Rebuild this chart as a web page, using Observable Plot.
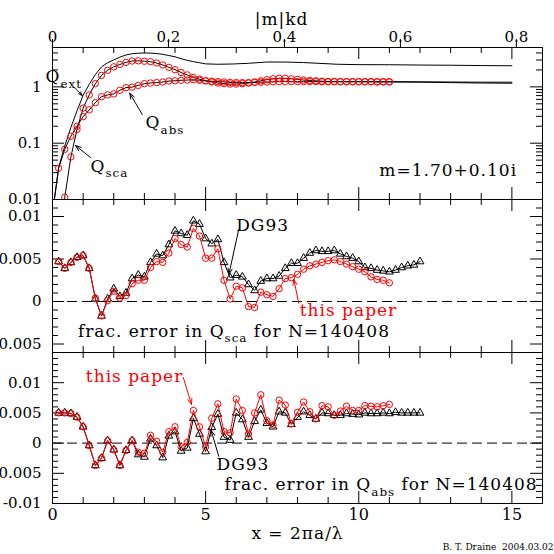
<!DOCTYPE html>
<html><head><meta charset="utf-8">
<script src="https://cdn.jsdelivr.net/npm/d3@7"></script>
<script src="https://cdn.jsdelivr.net/npm/@observablehq/plot@0.6"></script>
<style>
body{margin:0;background:#fff;}
#wrap{position:relative;width:554px;height:554px;background:#fff;overflow:hidden;}
#wrap svg{position:absolute;left:0;top:0;}
</style></head><body><div id="wrap"></div>
<script>
// ---------- data ----------
const xGrid = [0.2,0.4,0.6,0.8,1,1.2,1.4,1.6,1.8,2,2.2,2.4,2.6,2.8,3,3.2,3.4,3.6,3.8,4,4.2,4.4,4.6,4.8,5,5.2,5.4,5.6,5.8,6,6.2,6.4,6.6,6.8,7,7.2,7.4,7.6,7.8,8,8.2,8.4,8.6,8.8,9,9.2,9.4,9.6,9.8,10,10.2,10.4,10.6,10.8,11,11.2,11.4,11.6,11.8,12];

// top panel: Q values (red circles, x = 0.2 ... 11)
const qscaVals = [0.0008,0.011,0.057,0.175,0.42,0.72,1.14,1.6,1.97,2.27,2.5,2.72,2.88,2.9,2.85,2.8,2.65,2.45,2.22,2.02,1.8,1.63,1.47,1.37,1.28,1.22,1.17,1.14,1.12,1.12,1.14,1.17,1.22,1.28,1.34,1.39,1.42,1.42,1.39,1.36,1.32,1.3,1.28,1.26,1.25,1.25,1.24,1.24,1.24,1.24,1.24,1.24,1.24,1.24,1.24];
const qabsVals = [0.036,0.078,0.133,0.2,0.295,0.39,0.525,0.67,0.72,0.75,0.87,0.97,0.99,1.06,1.14,1.17,1.19,1.22,1.27,1.28,1.31,1.32,1.34,1.31,1.28,1.26,1.24,1.22,1.2,1.19,1.19,1.19,1.2,1.21,1.22,1.23,1.24,1.24,1.24,1.24,1.24,1.24,1.24,1.23,1.23,1.23,1.23,1.23,1.23,1.23,1.23,1.23,1.22,1.22,1.22];
// continuation of the exact curves beyond the last circle
const tailX = [12,13,14,15];
const qscaTail = [1.23,1.22,1.21,1.21];
const qabsTail = [1.21,1.19,1.17,1.16];
const qabsHeadX = [0.05], qabsHead = [0.009];
const qextX = [0.05,0.2,0.4,0.6,0.8,1,1.2,1.4,1.6,1.8,2,2.2,2.4,2.6,2.8,3,3.2,3.4,3.6,3.8,4,4.2,4.4,4.6,4.8,5,5.4,5.9,6.4,7,7.6,8.2,8.8,9.3,10,11,12,13,14,15];
const qextVals = [0.009,0.037,0.089,0.19,0.375,0.71,1.11,1.66,2.26,2.68,3.01,3.37,3.69,3.87,3.96,3.99,3.97,3.9,3.78,3.6,3.42,3.17,2.95,2.81,2.68,2.56,2.52,2.55,2.62,2.76,2.76,2.7,2.6,2.52,2.48,2.47,2.44,2.42,2.39,2.37];

// middle panel: frac. error in Qsca
const scaDG93 = [0.0047,0.0039,0.0046,0.0052,0.0054,0.0039,0.0003,-0.0017,0.0003,0.0015,0.0006,0.0010,0.0027,0.0031,0.0029,0.0046,0.0056,0.0054,0.0067,0.0083,0.0080,0.0078,0.0095,0.0091,0.0074,0.0068,0.0073,0.0046,0.0028,0.0031,0.0029,0.0020,0.0013,0.0024,0.0027,0.0027,0.0030,0.0039,0.0045,0.0045,0.0051,0.0057,0.0060,0.0059,0.0059,0.0060,0.0056,0.0053,0.0051,0.0047,0.0040,0.0039,0.0037,0.0036,0.0035,0.0037,0.0040,0.0042,0.0043,0.0047];
const scaPaper = [0.0047,0.0039,0.0046,0.0052,0.0054,0.0039,0.0004,-0.0017,0.0001,0.0012,0.0004,0.0007,0.0021,0.0025,0.0025,0.0040,0.0047,0.0046,0.0057,0.0074,0.0067,0.0064,0.0086,0.0077,0.0051,0.0051,0.0062,0.0025,0.0003,0.0018,0.0016,-0.0006,-0.0007,0.0011,0.0008,0.0006,0.0015,0.0027,0.0028,0.0032,0.0038,0.0042,0.0044,0.0046,0.0048,0.0049,0.0047,0.0044,0.0041,0.0038,0.0035,0.0029,0.0026,0.0025,0.0022];

// bottom panel: frac. error in Qabs
const absDG93 = [0.0050,0.0050,0.0049,0.0043,0.0027,-0.0004,-0.0037,-0.0025,0.0004,-0.0011,-0.0037,-0.0012,0.0004,-0.0019,-0.0023,0.0007,-0.0004,-0.0024,0.0012,0.0019,-0.0013,-0.0008,0.0041,0.0015,-0.0014,0.0026,0.0048,0.0010,0.0005,0.0050,0.0039,0.0010,0.0036,0.0055,0.0033,0.0027,0.0052,0.0050,0.0031,0.0043,0.0052,0.0046,0.0040,0.0050,0.0049,0.0046,0.0046,0.0049,0.0048,0.0047,0.0050,0.0049,0.0049,0.0050,0.0049,0.0051,0.0050,0.0050,0.0050,0.0050];
const absPaper = [0.0050,0.0050,0.0049,0.0043,0.0027,-0.0004,-0.0037,-0.0025,0.0004,-0.0011,-0.0037,-0.0012,0.0004,-0.0015,-0.0017,0.0013,0.0003,-0.0015,0.0019,0.0027,-0.0006,0.0001,0.0054,0.0027,-0.0006,0.0041,0.0065,0.0019,0.0017,0.0073,0.0054,0.0015,0.0050,0.0080,0.0037,0.0030,0.0071,0.0063,0.0032,0.0051,0.0068,0.0052,0.0040,0.0062,0.0060,0.0046,0.0053,0.0061,0.0054,0.0054,0.0062,0.0061,0.0060,0.0062,0.0064];

// ticks / labels
const xMajor = [0,5,10,15];
const xMinorTicks = [1,2,3,4,6,7,8,9,11,12,13,14];
const xMajorTicks = [5,10,15];
const mkdTicks = [0,0.2,0.4,0.6,0.8];
const mkdLabels = ["0","0.2","0.4","0.6","0.8"];
const logMajor = [0.01,0.1,1];
const logLabels = ["0.01","0.1","1"];
const logMinor = [0.02,0.03,0.04,0.05,0.06,0.07,0.08,0.09,0.2,0.3,0.4,0.5,0.6,0.7,0.8,0.9,2,3,4];
const midMajor = [-0.005,0,0.005,0.01];
const midLabels = ["-0.005","0","0.005","0.01"];
const botMajor = [-0.01,-0.005,0,0.005,0.01];
const botLabels = ["-0.01","-0.005","0","0.005","0.01"];

// annotations (data coordinates)
const topLabels = [
  {x:-0.23, y:1.50, t:"Q_{ext}"},
  {x:1.24, y:0.0389, t:"Q_{sca}"},
  {x:3.04, y:0.228, t:"Q_{abs}"}
];
const topArrows = [
  {x1:0.70, y1:0.986, x2:0.97, y2:0.703},
  {x1:1.24, y1:0.0557, x2:0.75, y2:0.091},
  {x1:2.93, y1:0.323, x2:2.52, y2:0.773}
];

// |m| k d per unit x :  |1.70+0.10i| * (4pi/3N)^(1/3), N=140408
const mkdPerX = Math.hypot(1.70,0.10) * Math.cbrt(4*Math.PI/(3*140408));

// ---------- layout ----------
const W = 554, H = 554, ML = 52, MR = 12, PW = W - ML - MR;
const wrap = document.getElementById("wrap");
const FONT = "'DejaVu Serif', serif";

function subscripts(svg) {
  svg.querySelectorAll("text").forEach(el => {
    const base = parseFloat(getComputedStyle(el).fontSize) || 16;
    if (base >= 16.5) el.style.letterSpacing = "1px";
    const s = el.textContent;
    if (!s.includes("_{")) return;
    const shift = base * 0.32;
    const parts = s.split(/(_\{[^}]*\})/);
    el.textContent = "";
    let shifted = false;
    for (const p of parts) {
      if (!p) continue;
      const ts = document.createElementNS("http://www.w3.org/2000/svg", "tspan");
      if (p.startsWith("_{")) {
        ts.textContent = p.slice(2, -1);
        ts.setAttribute("font-size", (base * 0.7) + "px");
        ts.setAttribute("dy", shift + "px");
        shifted = true;
      } else {
        ts.textContent = p;
        if (shifted) { ts.setAttribute("dy", (-shift) + "px"); shifted = false; }
      }
      el.appendChild(ts);
    }
  });
}

function xTicks(ph) {
  return [
    Plot.ruleX(xMinorTicks, {x: d => d, insetTop: ph - 6}),
    Plot.ruleX(xMajorTicks, {x: d => d, insetTop: ph - 12}),
    Plot.ruleX(xMinorTicks, {x: d => d, insetBottom: ph - 6}),
    Plot.ruleX(xMajorTicks, {x: d => d, insetBottom: ph - 12})
  ];
}
function yTicks(minor, major) {
  return [
    Plot.ruleY(minor, {y: d => d, insetRight: PW - 6}),
    Plot.ruleY(major, {y: d => d, insetRight: PW - 12}),
    Plot.ruleY(minor, {y: d => d, insetLeft: PW - 6}),
    Plot.ruleY(major, {y: d => d, insetLeft: PW - 12})
  ];
}
function yLabels(vals, labels) {
  return Plot.text(vals, {y: d => d, text: (d, i) => labels[i], frameAnchor: "left", textAnchor: "end", dx: -11, fontSize: 15});
}

function panel(top, bottom, y, marks) {
  const svg = Plot.plot({
    width: W, height: H,
    marginLeft: ML, marginRight: MR, marginTop: top, marginBottom: H - bottom,
    x: {domain: [0, 16], axis: null},
    y: {...y, axis: null},
    style: {background: "transparent", fontFamily: FONT, fontSize: "15px", color: "black"},
    marks
  });
  wrap.appendChild(svg);
  subscripts(svg);
}

const idx55 = xGrid.slice(0, 55);
const scaCircles = idx55.map((x, i) => ({x, v: qscaVals[i]}));
const absCircles = idx55.map((x, i) => ({x, v: qabsVals[i]}));
const scaLine = scaCircles.concat(tailX.map((x, i) => ({x, v: qscaTail[i]})));
const absLine = qabsHeadX.map((x, i) => ({x, v: qabsHead[i]})).concat(absCircles, tailX.map((x, i) => ({x, v: qabsTail[i]})));
const extLine = qextX.map((x, i) => ({x, v: qextVals[i]}));

// ---------- top panel ----------
const P1 = 152;
panel(47, 199, {type: "log", domain: [0.01, 5]}, [
  Plot.frame({stroke: "black"}),
  ...xTicks(P1),
  ...yTicks(logMinor, logMajor),
  yLabels(logMajor, logLabels),
  Plot.ruleX(mkdTicks, {x: d => d / mkdPerX, insetTop: -8, insetBottom: P1}),
  Plot.text(mkdTicks, {x: d => d / mkdPerX, text: (d, i) => mkdLabels[i], frameAnchor: "top", dy: -16, fontSize: 15}),
  Plot.text(["|m|kd"], {x: 7.48, frameAnchor: "top", dy: -35, fontSize: 17}),
  Plot.line(extLine, {x: "x", y: "v", stroke: "black", strokeWidth: 1, clip: true}),
  Plot.line(scaLine, {x: "x", y: "v", stroke: "black", strokeWidth: 1, clip: true}),
  Plot.line(absLine, {x: "x", y: "v", stroke: "black", strokeWidth: 1, clip: true}),
  Plot.dot(scaCircles, {x: "x", y: "v", r: 3.2, stroke: "red", fill: "none", strokeWidth: 1, clip: true}),
  Plot.dot(absCircles, {x: "x", y: "v", r: 3.2, stroke: "red", fill: "none", strokeWidth: 1, clip: true}),
  Plot.arrow(topArrows, {x1: "x1", y1: "y1", x2: "x2", y2: "y2", stroke: "black", strokeWidth: 1, headLength: 9, headAngle: 40}),
  Plot.text(topLabels, {x: "x", y: "y", text: "t", textAnchor: "start", fontSize: 17}),
  Plot.text(["m=1.70+0.10i"], {x: 15.17, y: 0.0327, textAnchor: "end", fontSize: 17})
]);

// ---------- middle panel ----------
const P2 = 153;
const midMinor = d3.range(-5, 12).map(i => i / 1000).filter(v => !midMajor.some(m => Math.abs(m - v) < 1e-9));
panel(199, 352, {domain: [-0.006, 0.012]}, [
  Plot.frame({stroke: "black"}),
  ...xTicks(P2),
  ...yTicks(midMinor, midMajor),
  yLabels(midMajor, midLabels),
  Plot.ruleY([0], {stroke: "black", strokeDasharray: "10,5"}),
  Plot.line(xGrid.map((x, i) => ({x, v: scaDG93[i]})), {x: "x", y: "v", stroke: "black", strokeWidth: 1}),
  Plot.dot(xGrid.map((x, i) => ({x, v: scaDG93[i]})), {x: "x", y: "v", symbol: "triangle", r: 2.9, stroke: "black", fill: "none", strokeWidth: 1}),
  Plot.line(idx55.map((x, i) => ({x, v: scaPaper[i]})), {x: "x", y: "v", stroke: "red", strokeWidth: 1}),
  Plot.dot(idx55.map((x, i) => ({x, v: scaPaper[i]})), {x: "x", y: "v", r: 3.2, stroke: "red", fill: "none", strokeWidth: 1}),
  Plot.arrow([{x1: 6.08, y1: 0.00847, x2: 5.76, y2: 0.0032}], {x1: "x1", y1: "y1", x2: "x2", y2: "y2", stroke: "black", strokeWidth: 1, headLength: 9, headAngle: 40}),
  Plot.text(["DG93"], {x: 6.86, y: 0.00894, fontSize: 17}),
  Plot.arrow([{x1: 8.04, y1: -0.0002, x2: 7.88, y2: 0.0026}], {x1: "x1", y1: "y1", x2: "x2", y2: "y2", stroke: "red", strokeWidth: 1, headLength: 9, headAngle: 40}),
  Plot.text(["this paper"], {x: 9.665, y: -0.0011, fill: "red", fontSize: 17}),
  Plot.text(["frac. error in Q_{sca} for N=140408"], {x: 0.83, y: -0.0035, textAnchor: "start", fontSize: 17})
]);

// ---------- bottom panel ----------
const P3 = 151;
const botMinor = d3.range(-9, 15).map(i => i / 1000).filter(v => !botMajor.some(m => Math.abs(m - v) < 1e-9));
panel(352, 503, {domain: [-0.01, 0.015]}, [
  Plot.frame({stroke: "black"}),
  ...xTicks(P3),
  ...yTicks(botMinor, botMajor),
  yLabels(botMajor, botLabels),
  Plot.text(xMajor, {x: d => d, text: d => String(d), frameAnchor: "bottom", dy: 16, fontSize: 16}),
  Plot.text(["x = 2\u03c0a/\u03bb"], {x: 8.0, frameAnchor: "bottom", dy: 35, fontSize: 17}),
  Plot.text(["B. T. Draine\u00a0\u00a02004.03.02"], {x: 16.36, frameAnchor: "bottom", dy: 46, textAnchor: "end", fontSize: 9}),
  Plot.ruleY([0], {stroke: "black", strokeDasharray: "10,5"}),
  Plot.line(xGrid.map((x, i) => ({x, v: absDG93[i]})), {x: "x", y: "v", stroke: "black", strokeWidth: 1}),
  Plot.dot(xGrid.map((x, i) => ({x, v: absDG93[i]})), {x: "x", y: "v", symbol: "triangle", r: 2.9, stroke: "black", fill: "none", strokeWidth: 1}),
  Plot.line(idx55.map((x, i) => ({x, v: absPaper[i]})), {x: "x", y: "v", stroke: "red", strokeWidth: 1}),
  Plot.dot(idx55.map((x, i) => ({x, v: absPaper[i]})), {x: "x", y: "v", r: 3.2, stroke: "red", fill: "none", strokeWidth: 1}),
  Plot.arrow([{x1: 4.27, y1: 0.01086, x2: 4.54, y2: 0.0064}], {x1: "x1", y1: "y1", x2: "x2", y2: "y2", stroke: "red", strokeWidth: 1, headLength: 9, headAngle: 40}),
  Plot.text(["this paper"], {x: 2.68, y: 0.0111, fill: "red", fontSize: 17}),
  Plot.arrow([{x1: 5.43, y1: -0.0022, x2: 5.18, y2: 0.0021}], {x1: "x1", y1: "y1", x2: "x2", y2: "y2", stroke: "black", strokeWidth: 1, headLength: 9, headAngle: 40}),
  Plot.text(["DG93"], {x: 6.22, y: -0.0036, fontSize: 17}),
  Plot.text(["frac. error in Q_{abs} for N=140408"], {x: 15.84, y: -0.0069, textAnchor: "end", fontSize: 17})
]);
</script></body></html>
